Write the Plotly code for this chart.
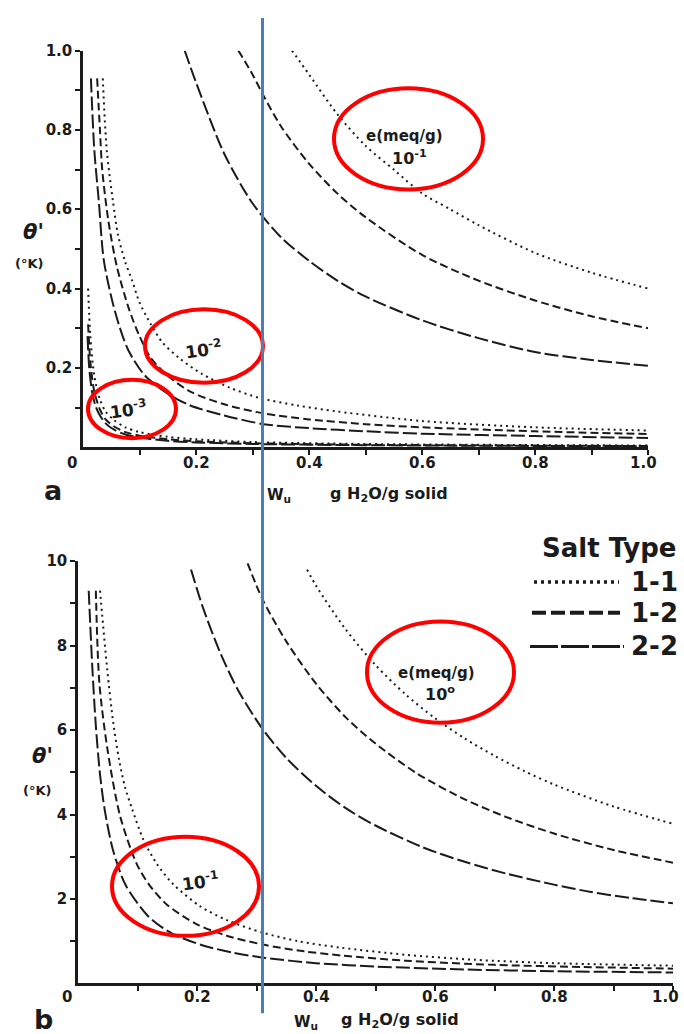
import plotly.graph_objects as go

W, H = 684, 1034

# ---------------- panel a : theta' (K) vs Wu, e = 1e-1, 1e-2, 1e-3 meq/g ----------------
a1_11_w = [0.37, 0.40, 0.45, 0.50, 0.55, 0.60, 0.65, 0.70, 0.80, 0.90, 1.00]
a1_11_t = [1.00, 0.94, 0.84, 0.76, 0.70, 0.64, 0.60, 0.56, 0.49, 0.44, 0.40]
a1_12_w = [0.275, 0.30, 0.32, 0.35, 0.40, 0.45, 0.50, 0.60, 0.70, 0.80, 0.90, 1.00]
a1_12_t = [1.00, 0.94, 0.885, 0.81, 0.715, 0.64, 0.58, 0.485, 0.42, 0.37, 0.33, 0.30]
a1_22_w = [0.18, 0.20, 0.25, 0.30, 0.35, 0.40, 0.45, 0.50, 0.60, 0.70, 0.80, 0.90, 1.00]
a1_22_t = [1.00, 0.92, 0.74, 0.615, 0.53, 0.47, 0.42, 0.38, 0.32, 0.275, 0.24, 0.22, 0.205]

a2_11_w = [0.035, 0.042, 0.053, 0.062, 0.074, 0.087, 0.10, 0.12, 0.14, 0.17, 0.21, 0.26, 0.31, 0.38, 0.45, 0.60, 0.80, 1.00]
a2_11_t = [0.93, 0.75, 0.62, 0.535, 0.47, 0.42, 0.365, 0.31, 0.265, 0.225, 0.185, 0.15, 0.125, 0.105, 0.09, 0.066, 0.05, 0.042]
a2_12_w = [0.025, 0.030, 0.034, 0.045, 0.060, 0.081, 0.10, 0.12, 0.15, 0.19, 0.25, 0.32, 0.40, 0.50, 0.60, 0.80, 1.00]
a2_12_t = [0.93, 0.80, 0.70, 0.57, 0.455, 0.35, 0.28, 0.225, 0.18, 0.14, 0.108, 0.085, 0.07, 0.058, 0.05, 0.04, 0.033]
a2_22_w = [0.014, 0.020, 0.028, 0.037, 0.057, 0.08, 0.11, 0.15, 0.19, 0.25, 0.32, 0.40, 0.50, 0.60, 0.80, 1.00]
a2_22_t = [0.93, 0.75, 0.62, 0.47, 0.34, 0.245, 0.18, 0.135, 0.105, 0.08, 0.058, 0.048, 0.04, 0.034, 0.028, 0.023]

a3_11_w = [0.009, 0.013, 0.02, 0.03, 0.04, 0.055, 0.075, 0.10, 0.15, 0.20, 0.30, 0.50, 0.70, 1.00]
a3_11_t = [0.40, 0.28, 0.18, 0.12, 0.09, 0.068, 0.05, 0.038, 0.026, 0.02, 0.013, 0.008, 0.006, 0.004]
a3_12_w = [0.009, 0.013, 0.02, 0.03, 0.04, 0.055, 0.075, 0.10, 0.15, 0.20, 0.30, 0.50, 0.70, 1.00]
a3_12_t = [0.31, 0.215, 0.14, 0.095, 0.07, 0.052, 0.038, 0.029, 0.02, 0.015, 0.01, 0.006, 0.0045, 0.003]
a3_22_w = [0.008, 0.011, 0.016, 0.022, 0.028, 0.04, 0.055, 0.075, 0.10, 0.15, 0.20, 0.30, 0.50, 0.70, 1.00]
a3_22_t = [0.28, 0.20, 0.14, 0.105, 0.085, 0.06, 0.044, 0.032, 0.024, 0.016, 0.012, 0.008, 0.005, 0.0035, 0.0025]

# ---------------- panel b : theta' (K) vs Wu, e = 1e0, 1e-1 meq/g ----------------
b1_11_w = [0.385, 0.40, 0.45, 0.50, 0.55, 0.60, 0.65, 0.70, 0.75, 0.80, 0.90, 1.00]
b1_11_t = [9.8, 9.42, 8.38, 7.54, 6.85, 6.28, 5.8, 5.39, 5.03, 4.71, 4.19, 3.78]
b1_12_w = [0.285, 0.31, 0.35, 0.40, 0.45, 0.50, 0.57, 0.65, 0.72, 0.80, 0.90, 1.00]
b1_12_t = [9.95, 9.1, 8.1, 7.1, 6.3, 5.68, 4.97, 4.36, 3.94, 3.55, 3.16, 2.86]
b1_22_w = [0.19, 0.21, 0.24, 0.27, 0.31, 0.35, 0.40, 0.45, 0.50, 0.58, 0.65, 0.72, 0.80, 0.86, 0.93, 1.00]
b1_22_t = [9.8, 8.9, 7.8, 6.92, 6.03, 5.34, 4.68, 4.15, 3.74, 3.22, 2.88, 2.6, 2.34, 2.17, 2.02, 1.9]

b2_11_w = [0.037, 0.049, 0.059, 0.069, 0.079, 0.091, 0.11, 0.133, 0.16, 0.205, 0.25, 0.311, 0.37, 0.44, 0.55, 0.667, 0.80, 1.00]
b2_11_t = [9.3, 7.45, 6.2, 5.3, 4.65, 4.13, 3.4, 2.82, 2.35, 1.83, 1.5, 1.2, 1.0, 0.85, 0.68, 0.56, 0.48, 0.42]
b2_12_w = [0.030, 0.036, 0.05, 0.071, 0.099, 0.12, 0.15, 0.20, 0.25, 0.311, 0.38, 0.444, 0.55, 0.70, 0.85, 1.00]
b2_12_t = [9.3, 7.1, 5.5, 3.95, 2.82, 2.33, 1.86, 1.4, 1.13, 0.92, 0.76, 0.66, 0.54, 0.44, 0.39, 0.35]
b2_22_w = [0.018, 0.024, 0.030, 0.037, 0.045, 0.059, 0.08, 0.116, 0.14, 0.166, 0.21, 0.26, 0.311, 0.40, 0.50, 0.65, 0.80, 1.00]
b2_22_t = [9.3, 7.5, 6.1, 4.95, 4.1, 3.15, 2.33, 1.62, 1.34, 1.13, 0.9, 0.73, 0.61, 0.48, 0.4, 0.33, 0.29, 0.26]

x_ticks = [0.2, 0.4, 0.6, 0.8, 1.0]
x_ticktext = ["0.2", "0.4", "0.6", "0.8", "1.0"]
x_minor = [0.1, 0.3, 0.5, 0.7, 0.9]
ya_ticks = [0.2, 0.4, 0.6, 0.8, 1.0]
ya_ticktext = ["0.2", "0.4", "0.6", "0.8", "1.0"]
ya_minor = [0.1, 0.3, 0.5, 0.7, 0.9]
yb_ticks = [2, 4, 6, 8, 10]
yb_ticktext = ["2", "4", "6", "8", "10"]
yb_minor = [1, 3, 5, 7, 9]

salt_types = ["1-1", "1-2", "2-2"]
SALT_DASH = {"1-1": "2px,4px", "1-2": "8px,4px", "2-2": "14px,4px"}
INK = "#1b1b1b"
FONT = "DejaVu Sans"

curves = [
    ("a", "1-1", a1_11_w, a1_11_t), ("a", "1-2", a1_12_w, a1_12_t), ("a", "2-2", a1_22_w, a1_22_t),
    ("a", "1-1", a2_11_w, a2_11_t), ("a", "1-2", a2_12_w, a2_12_t), ("a", "2-2", a2_22_w, a2_22_t),
    ("a", "1-1", a3_11_w, a3_11_t), ("a", "1-2", a3_12_w, a3_12_t), ("a", "2-2", a3_22_w, a3_22_t),
    ("b", "1-1", b1_11_w, b1_11_t), ("b", "1-2", b1_12_w, b1_12_t), ("b", "2-2", b1_22_w, b1_22_t),
    ("b", "1-1", b2_11_w, b2_11_t), ("b", "1-2", b2_12_w, b2_12_t), ("b", "2-2", b2_22_w, b2_22_t),
]

fig = go.Figure()
for panel, salt, w, t in curves:
    fig.add_trace(go.Scatter(
        x=w, y=t, mode="lines",
        xaxis="x" if panel == "a" else "x2",
        yaxis="y" if panel == "a" else "y2",
        line=dict(color=INK, width=2, dash=SALT_DASH[salt], shape="spline", smoothing=0.8),
        hoverinfo="skip", showlegend=False,
    ))


def px(x):
    return x / W


def py(y):
    return 1 - y / H


tick_font = dict(family=FONT, size=15, color=INK, weight="bold")


def axis(domain, rng, tickvals, ticktext, minor, anchor, labels=True):
    return dict(
        domain=domain, range=rng, anchor=anchor,
        showline=True, linecolor=INK, linewidth=2.5,
        showgrid=False, zeroline=False,
        ticks="outside", ticklen=5, tickwidth=2, tickcolor=INK,
        tickvals=tickvals, ticktext=ticktext, tickfont=tick_font,
        showticklabels=labels,
        minor=dict(tickvals=minor, ticks="outside", ticklen=5, tickwidth=2, tickcolor=INK),
        fixedrange=True,
    )


layout = dict(
    width=W, height=H,
    margin=dict(l=0, r=0, t=0, b=0),
    paper_bgcolor="white", plot_bgcolor="white",
    showlegend=False,
    xaxis=axis([px(83), px(648)], [0, 1], x_ticks, x_ticktext, x_minor, "y", labels=False),
    yaxis=axis([py(442), py(42)], [0, 1], ya_ticks, ya_ticktext, ya_minor, "x"),
    xaxis2=axis([px(78), px(673)], [0, 1], x_ticks, x_ticktext, x_minor, "y2", labels=False),
    yaxis2=axis([py(983), py(557)], [0, 10], yb_ticks, yb_ticktext, yb_minor, "x2"),
)
fig.update_layout(**layout)


def label(x, y, text, size, bold=True, italic=False, xanchor="center", angle=0):
    fig.add_annotation(
        x=px(x), y=py(y), xref="paper", yref="paper", text=text,
        showarrow=False, xanchor=xanchor, yanchor="middle", textangle=angle,
        font=dict(family=FONT, size=size, color=INK,
                  weight="bold" if bold else "normal",
                  style="italic" if italic else "normal"),
    )


# x tick labels, placed in data units along each x axis; the last one is
# pulled in so it stays inside the page edge
for xref, ylab, last_shift in (("x", 458, -5), ("x2", 997, -8)):
    for v, txt in zip(x_ticks, x_ticktext):
        fig.add_annotation(x=v, y=py(ylab), xref=xref, yref="paper", text=txt,
                           showarrow=False, xanchor="center", yanchor="middle",
                           xshift=last_shift if v == x_ticks[-1] else 0,
                           font=tick_font)

# origin labels, axis titles, panel letters
label(72, 458, "0", 15)
label(67, 997, "0", 15)
label(33, 225, "θ'", 21, italic=True)
label(29, 257, "(°K)", 13)
label(42, 754, "θ'", 21, italic=True)
label(37, 788, "(°K)", 13)
label(279, 491, "W<sub>u</sub>", 15)
label(389, 490, "g H<sub>2</sub>O/g solid", 16)
label(306, 1022, "W<sub>u</sub>", 15)
label(400, 1020, "g H<sub>2</sub>O/g solid", 16)
label(53, 486, "a", 27)
label(43, 1019, "b", 27)

# curve-family labels
label(405, 128, "e(meq/g)", 15)
label(409, 150, "10<sup>-1</sup>", 16)
label(203, 343, "10<sup>-2</sup>", 17, angle=-8)
label(128, 404, "10<sup>-3</sup>", 17, angle=-8)
label(436, 670, "e(meq/g)", 15)
label(440, 691, "10<sup>o</sup>", 16)
label(200, 880, "10<sup>-1</sup>", 17, angle=-8)

# salt type key
label(609, 544, "Salt Type", 26)
key_rows = [("1-1", 578, 534, 619, 3.5, "3px,4px"),
            ("1-2", 609, 532, 620, 4, "14px,5px"),
            ("2-2", 643, 530, 624, 3, "28px,3px")]
shapes = []
for name, yk, x0, x1, lw, dash in key_rows:
    shapes.append(dict(type="line", xref="paper", yref="paper",
                       x0=px(x0), x1=px(x1), y0=py(yk), y1=py(yk),
                       line=dict(color=INK, width=lw, dash=dash)))
    label(629, yk, name, 26, xanchor="left")

# highlight ellipses
ellipses = [(408.5, 131, 74.5, 51), (204, 340, 59, 37), (132, 403.5, 44, 29.5),
            (440.5, 669, 73.5, 51), (185.5, 885, 73.5, 50)]
for cx, cy, rx, ry in ellipses:
    shapes.append(dict(type="circle", xref="paper", yref="paper",
                       x0=px(cx - rx), x1=px(cx + rx), y0=py(cy + ry), y1=py(cy - ry),
                       line=dict(color="#FF0000", width=4)))

# vertical marker at Wu ~ 0.31
shapes.append(dict(type="line", xref="paper", yref="paper",
                   x0=px(262.5), x1=px(262.5), y0=py(9), y1=py(1013),
                   line=dict(color="#4A7EBB", width=3)))

fig.update_layout(shapes=shapes)
fig.write_html("out.html")
